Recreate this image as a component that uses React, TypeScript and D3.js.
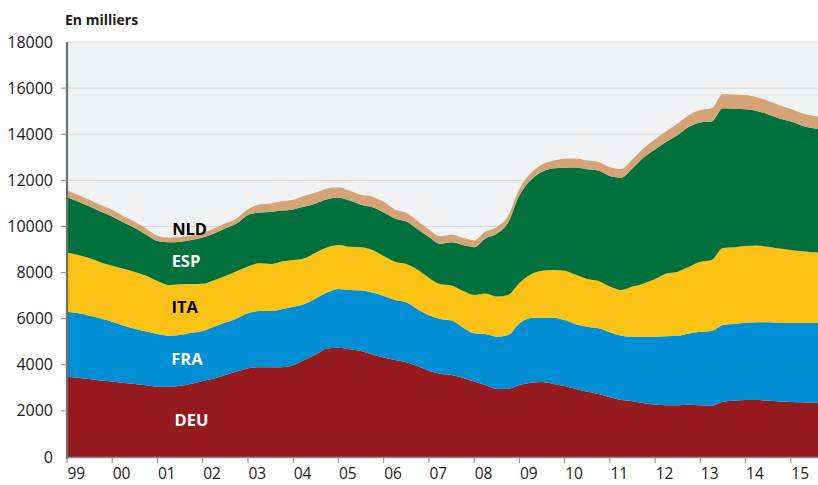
import React from "react";
import * as d3 from "d3";

const START_YEAR = 1999;
// quarterly values (thousands), 1999Q1 .. 2015Q4
const DEU = [3480,3440,3380,3320,3270,3210,3170,3110,3050,3050,3090,3180,3300,3410,3560,3700,3850,3890,3890,3890,3990,4210,4450,4710,4740,4670,4600,4450,4320,4210,4110,3950,3740,3610,3560,3440,3270,3120,2950,2960,3120,3220,3250,3170,3080,2950,2830,2730,2590,2470,2420,2330,2280,2250,2250,2270,2250,2230,2400,2440,2470,2470,2440,2410,2390,2370,2360,2350];
const FRA = [2820,2790,2750,2690,2600,2490,2390,2330,2280,2210,2200,2210,2170,2240,2270,2310,2380,2440,2440,2520,2530,2430,2430,2420,2550,2570,2620,2680,2660,2600,2600,2460,2410,2380,2360,2180,2100,2210,2270,2330,2670,2810,2790,2870,2860,2810,2820,2850,2820,2790,2800,2890,2940,2990,3010,3090,3180,3240,3330,3330,3350,3370,3400,3410,3420,3440,3450,3460];
const ITA = [2570,2530,2490,2430,2430,2460,2460,2420,2300,2200,2200,2110,2040,2020,2020,2050,2030,2070,2040,2070,2020,1980,1980,1970,1910,1880,1880,1850,1740,1660,1660,1710,1630,1510,1520,1590,1660,1760,1740,1740,1760,1890,2040,2070,2140,2140,2070,2050,1980,1980,2170,2310,2500,2720,2780,2890,3040,3080,3330,3330,3330,3330,3280,3220,3170,3110,3070,3050];
const ESP = [2410,2310,2240,2200,2130,2010,1910,1780,1740,1850,1850,1910,2010,2020,2070,2070,2240,2200,2260,2210,2200,2240,2140,2080,2040,2000,1840,1850,1890,1880,1840,1760,1760,1750,1870,1980,2070,2390,2720,3140,3800,4090,4290,4410,4470,4660,4760,4790,4800,4870,5130,5470,5620,5710,5930,6070,6040,6000,6070,6000,5930,5840,5740,5640,5570,5450,5380,5320];
const NLD = [290,290,290,290,290,270,270,260,230,210,200,200,200,220,220,220,250,350,370,400,420,470,470,470,460,430,430,460,460,390,380,360,330,330,330,320,300,300,290,290,290,300,320,330,390,390,380,380,380,380,390,400,440,470,490,510,540,580,620,620,620,590,590,580,540,540,540,550];

const SERIES = ["DEU", "FRA", "ITA", "ESP", "NLD"];
const COLORS = ["#951b20", "#008fd4", "#fdc314", "#00703c", "#d5a375"];
const LABEL_COLORS = ["#ffffff", "#ffffff", "#000000", "#ffffff", "#000000"];
const LABEL_YEARS = [2001.75, 2001.65, 2001.6, 2001.63, 2001.71];
const LABEL_VALUES = [1345, 3990, 6245, 8240, 9620];
const Y_TICKS = [0, 2000, 4000, 6000, 8000, 10000, 12000, 14000, 16000, 18000];
const X_TICK_YEARS = d3.range(1999, 2016);
const X_TICK_LABELS = ["99","00","01","02","03","04","05","06","07","08","09","10","11","12","13","14","15"];

const rows = DEU.map((d, i) => ({
  t: START_YEAR + i / 4,
  DEU: d, FRA: FRA[i], ITA: ITA[i], ESP: ESP[i], NLD: NLD[i],
}));

const W = 818, H = 485;
const M = { left: 67, right: 0, top: 42, bottom: 28 };
const FONT = "'Open Sans', 'DejaVu Sans', sans-serif";

export default function App() {
  const x = d3.scaleLinear().domain([1999, 2015.6]).range([M.left, W - M.right]);
  const y = d3.scaleLinear().domain([0, 18000]).range([H - M.bottom, M.top]);
  const stack = d3.stack<any>().keys(SERIES)(rows);
  const area = d3.area<any>()
    .x((d) => x(d.data.t))
    .y0((d) => y(d[0]))
    .y1((d) => y(d[1]))
    .curve(d3.curveMonotoneX);
  const y0 = y(0);
  return (
    <svg width={W} height={H} style={{ position: "absolute", left: 0, top: 0, fontFamily: FONT }}>
      <defs>
        <clipPath id="plot">
          <rect x={M.left} y={M.top} width={W - M.left - M.right} height={y0 - M.top} />
        </clipPath>
      </defs>
      <rect x={M.left} y={M.top} width={W - M.left - M.right} height={y0 - M.top} fill="#f1f2f4" />
      {Y_TICKS.slice(1).map((v) => (
        <line key={v} x1={M.left} x2={W} y1={y(v)} y2={y(v)} stroke="#d9dadd" strokeWidth={1.2} />
      ))}
      <g clipPath="url(#plot)">
        {stack.map((s, i) => (
          <path key={SERIES[i]} d={area(s) || ""} fill={COLORS[i]} />
        ))}
      </g>
      {SERIES.map((s, i) => (
        <text key={s} x={x(LABEL_YEARS[i])} y={y(LABEL_VALUES[i])} fill={LABEL_COLORS[i]}
          fontSize={16.5} fontWeight="bold" textAnchor="middle">{s}</text>
      ))}
      <line x1={M.left} x2={W} y1={y0 + 0.5} y2={y0 + 0.5} stroke="#8a8a8a" strokeWidth={1.5} />
      <line x1={M.left} x2={M.left} y1={M.top} y2={y0 + 2} stroke="#6d6e70" strokeWidth={2.2} />
      {Y_TICKS.map((v) => (
        <g key={v}>
          {v > 0 && v < 18000 && <line x1={61} x2={M.left} y1={y(v)} y2={y(v)} stroke="#8a8a8a" strokeWidth={1} />}
          <text x={53} y={y(v)} dy="0.35em" textAnchor="end" fontSize={16} fill="#1a1a1a">{v}</text>
        </g>
      ))}
      {X_TICK_YEARS.map((t, i) => (
        <g key={t}>
          <line x1={x(t)} x2={x(t)} y1={y0} y2={y0 + 6} stroke="#8a8a8a" strokeWidth={1} />
          <text x={x(t) + 0.5} y={479} textAnchor="start" fontSize={15.5} fill="#1a1a1a">{X_TICK_LABELS[i]}</text>
        </g>
      ))}
      <text x={65} y={25} fontSize={14} fontWeight="bold" fill="#1a1a1a">En milliers</text>
    </svg>
  );
}
